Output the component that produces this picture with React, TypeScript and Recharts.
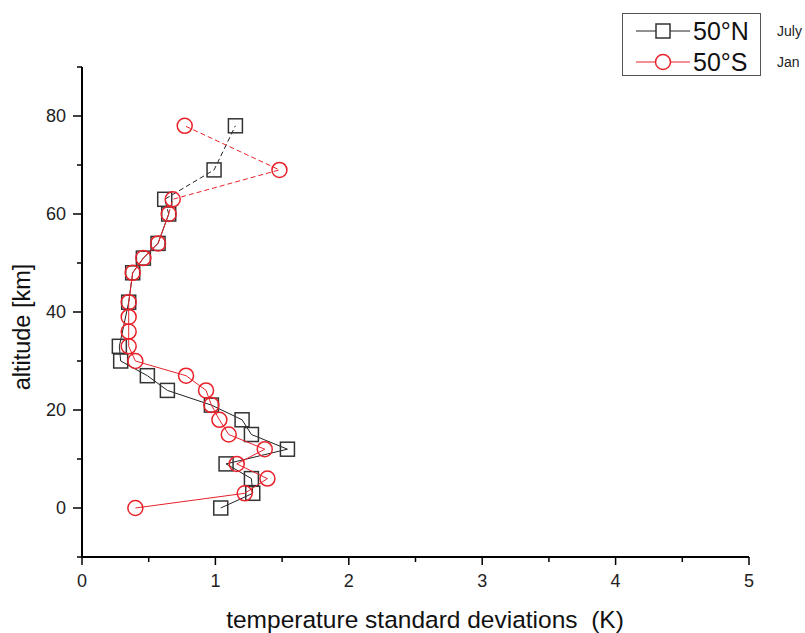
import React from "react";
import { ScatterChart, Scatter, XAxis, YAxis } from "recharts";

// 50°N (July) profile
const altitudesN = [0, 3, 6, 9, 12, 15, 18, 21, 24, 27, 30, 33, 42, 48, 51, 54, 60, 63, 69, 78];
const sdN = [1.04, 1.28, 1.27, 1.08, 1.54, 1.27, 1.2, 0.97, 0.64, 0.49, 0.29, 0.28, 0.35, 0.38, 0.46, 0.57, 0.65, 0.62, 0.99, 1.15];

// 50°S (Jan) profile
const altitudesS = [0, 3, 6, 9, 12, 15, 18, 21, 24, 27, 30, 33, 36, 39, 42, 48, 51, 54, 60, 63, 69, 78];
const sdS = [0.4, 1.22, 1.39, 1.16, 1.37, 1.1, 1.03, 0.97, 0.93, 0.78, 0.4, 0.35, 0.35, 0.35, 0.35, 0.38, 0.46, 0.57, 0.65, 0.68, 1.48, 0.77];

const xTicks = [0, 0.5, 1, 1.5, 2, 2.5, 3, 3.5, 4, 4.5, 5];
const yTicks = [-10, 0, 10, 20, 30, 40, 50, 60, 70, 80, 90];

// altitude above which the profiles are drawn dashed
const DASH_FROM = 60;

const BLACK = "#222";
const RED = "#e8222a";
const FONT = "'Liberation Sans', Arial, sans-serif";

const toPoints = (alts: number[], vals: number[]) => alts.map((alt, i) => ({ alt, sd: vals[i] }));

const north = toPoints(altitudesN, sdN);
const south = toPoints(altitudesS, sdS);
const northLow = north.filter((p) => p.alt <= DASH_FROM);
const northHigh = north.filter((p) => p.alt >= DASH_FROM);
const southLow = south.filter((p) => p.alt <= DASH_FROM);
const southHigh = south.filter((p) => p.alt >= DASH_FROM);

const square = (skipBase: boolean) => (p: any) => {
  if (skipBase && p.payload && p.payload.alt <= DASH_FROM) return <g />;
  return <rect x={p.cx - 7} y={p.cy - 7} width={14} height={14} fill="none" stroke="#333" strokeWidth={1.5} />;
};

const circle = (skipBase: boolean) => (p: any) => {
  if (skipBase && p.payload && p.payload.alt <= DASH_FROM) return <g />;
  return <circle cx={p.cx} cy={p.cy} r={7.5} fill="none" stroke={RED} strokeWidth={1.5} />;
};

const XTick = (props: any) => {
  const { x, y, payload } = props;
  const major = Number.isInteger(payload.value);
  return (
    <g>
      <line x1={x} x2={x} y1={y} y2={y + (major ? 8 : 5)} stroke="#000" strokeWidth={1.5} />
      {major && (
        <text x={x} y={y + 30} textAnchor="middle" fontSize={18} fontFamily={FONT} fill="#222">
          {payload.value}
        </text>
      )}
    </g>
  );
};

const YTick = (props: any) => {
  const { x, y, payload } = props;
  const major = payload.value % 20 === 0;
  return (
    <g>
      <line x1={x - (major ? 9 : 5)} x2={x} y1={y} y2={y} stroke="#000" strokeWidth={1.5} />
      {major && (
        <text x={x - 16} y={y + 6} textAnchor="end" fontSize={18} fontFamily={FONT} fill="#222">
          {payload.value}
        </text>
      )}
    </g>
  );
};

function Legend() {
  return (
    <div style={{ position: "absolute", left: 622, top: 13, width: 138, height: 62, fontFamily: FONT }}>
      <div style={{ position: "absolute", left: 0, top: 0, width: 137, height: 61, border: "1px solid #555" }} />
      <svg style={{ position: "absolute", left: 0, top: 0 }} width={70} height={62}>
        <line x1={14} x2={68} y1={18} y2={18} stroke={BLACK} strokeWidth={1} />
        <rect x={34} y={11} width={14} height={14} fill="#fff" stroke="#333" strokeWidth={1.5} />
        <line x1={14} x2={68} y1={49} y2={49} stroke={RED} strokeWidth={1} />
        <circle cx={41} cy={49} r={7.5} fill="#fff" stroke={RED} strokeWidth={1.5} />
      </svg>
      <div style={{ position: "absolute", left: 71, top: 3, fontSize: 25, lineHeight: "30px", color: "#111" }}>50°N</div>
      <div style={{ position: "absolute", left: 71, top: 34, fontSize: 25, lineHeight: "30px", color: "#111" }}>50°S</div>
      <div style={{ position: "absolute", left: 155, top: 10, fontSize: 14, lineHeight: "16px", color: "#222" }}>July</div>
      <div style={{ position: "absolute", left: 155, top: 41, fontSize: 14, lineHeight: "16px", color: "#222" }}>Jan</div>
    </div>
  );
}

export default function App() {
  return (
    <div style={{ position: "absolute", left: 0, top: 0, width: 805, height: 633, background: "#fff" }}>
      <ScatterChart width={805} height={633} margin={{ top: 67, right: 56, bottom: 0, left: 0 }}>
        <XAxis
          type="number"
          dataKey="sd"
          domain={[0, 5]}
          ticks={xTicks}
          interval={0}
          height={76}
          tickSize={0}
          tickMargin={0}
          tickLine={false}
          tick={XTick}
          axisLine={{ stroke: "#000", strokeWidth: 2 }}
        />
        <YAxis
          type="number"
          dataKey="alt"
          domain={[-10, 90]}
          ticks={yTicks}
          interval={0}
          width={82}
          tickSize={0}
          tickMargin={0}
          tickLine={false}
          tick={YTick}
          axisLine={{ stroke: "#000", strokeWidth: 2 }}
        />
        <Scatter data={northLow} isAnimationActive={false} line={{ stroke: BLACK, strokeWidth: 1 }} lineJointType="linear" shape={square(false)} />
        <Scatter data={northHigh} isAnimationActive={false} line={{ stroke: BLACK, strokeWidth: 1, strokeDasharray: "5 3" }} lineJointType="linear" shape={square(true)} />
        <Scatter data={southLow} isAnimationActive={false} line={{ stroke: RED, strokeWidth: 1 }} lineJointType="linear" shape={circle(false)} />
        <Scatter data={southHigh} isAnimationActive={false} line={{ stroke: RED, strokeWidth: 1, strokeDasharray: "5 3" }} lineJointType="linear" shape={circle(true)} />
      </ScatterChart>
      <div
        style={{
          position: "absolute",
          left: 22,
          top: 327,
          transform: "translate(-50%, -50%) rotate(-90deg)",
          whiteSpace: "nowrap",
          fontFamily: FONT,
          fontSize: 23.5,
          lineHeight: "26px",
          color: "#111",
        }}
      >
        altitude [km]
      </div>
      <div
        style={{
          position: "absolute",
          left: 425,
          top: 620,
          transform: "translate(-50%, -50%)",
          whiteSpace: "pre",
          fontFamily: FONT,
          fontSize: 24.5,
          lineHeight: "22px",
          color: "#111",
        }}
      >
        temperature standard deviations  (K)
      </div>
      <Legend />
    </div>
  );
}
